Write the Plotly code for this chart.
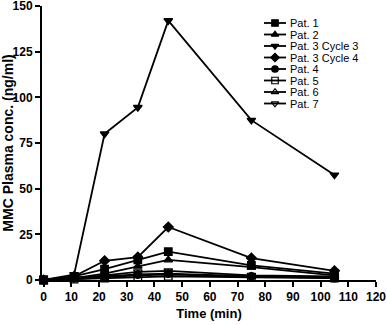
import plotly.graph_objects as go

times = [0, 11, 22, 34, 45, 75, 105]
names = ["Pat. 1", "Pat. 2", "Pat. 3 Cycle 3", "Pat. 3 Cycle 4", "Pat. 4", "Pat. 5", "Pat. 6", "Pat. 7"]
pat1 = [0, 2, 6, 11, 15.5, 8, 3.5]
pat2 = [0, 1, 3.5, 7.5, 11, 7, 2.5]
pat3c3 = [0, 3, 80, 94.5, 142, 87.5, 57.5]
pat3c4 = [0, 2, 10.5, 12.5, 29, 12, 5]
pat4 = [0, 1, 2, 3, 3.5, 2, 1]
pat5 = [0, 0.5, 1, 1.5, 2, 1.5, 1]
pat6 = [0, 0.5, 1.5, 2.5, 3, 2, 1.5]
pat7 = [0, 1, 2.5, 4.5, 5, 2.5, 2]
series = [pat1, pat2, pat3c3, pat3c4, pat4, pat5, pat6, pat7]
symbols = ["square", "triangle-up", "triangle-down", "diamond", "circle",
           "square-open", "triangle-up-open", "triangle-down-open"]
x_ticks = list(range(0, 121, 10))
y_ticks = [0, 25, 50, 75, 100, 125, 150]

W, H = 387, 325
ML, MR, MT, MB = 42, 11, 6, 45
PW, PH = W - ML - MR, H - MT - MB

fig = go.Figure()
for nm, ys, sym in zip(names, series, symbols):
    fig.add_trace(go.Scatter(
        x=times, y=ys, name=nm, mode="lines+markers",
        line=dict(color="black", width=1.8),
        marker=dict(symbol=sym, size=7.5, color="black",
                    line=dict(color="black", width=1.3)),
        cliponaxis=False, showlegend=False))

# custom compact legend in plot-pixel coordinates
lx0, lx1, ly0, ldy = 222, 244, 17, 11.5
for i, (nm, sym) in enumerate(zip(names, symbols)):
    yy = ly0 + i * ldy
    fig.add_trace(go.Scatter(
        x=[lx0, (lx0 + lx1) / 2, lx1], y=[yy, yy, yy], xaxis="x2", yaxis="y2",
        mode="lines", line=dict(color="black", width=1.8),
        showlegend=False, hoverinfo="skip"))
    fig.add_trace(go.Scatter(
        x=[(lx0 + lx1) / 2], y=[yy], xaxis="x2", yaxis="y2",
        mode="markers", marker=dict(symbol=sym, size=6.5, color="black",
                                    line=dict(color="black", width=1.2)),
        showlegend=False, hoverinfo="skip"))
    fig.add_annotation(x=lx1 + 2, y=yy, xref="x2", yref="y2", text=nm,
                       showarrow=False, xanchor="left", yanchor="middle",
                       font=dict(family="Liberation Sans, Arial", size=11, color="black"))

axis_font = dict(family="Liberation Sans, Arial", size=12, color="black", weight="bold")
fig.update_layout(
    width=W, height=H, margin=dict(l=ML, r=MR, t=MT, b=MB),
    paper_bgcolor="white", plot_bgcolor="white",
    xaxis=dict(range=[-0.6, 120], tickvals=x_ticks, ticks="outside", ticklen=5,
               tickwidth=1.5, tickcolor="black", showline=True, linecolor="black",
               linewidth=2, showgrid=False, zeroline=False, tickfont=axis_font,
               ticklabeloverflow="allow",
               title=dict(text="Time (min)", font=dict(family="Liberation Sans, Arial", size=13,
                                                      color="black", weight="bold"), standoff=5),
               automargin=False),
    yaxis=dict(range=[0, 150], tickvals=y_ticks, ticks="outside", ticklen=5,
               tickwidth=1.5, tickcolor="black", showline=True, linecolor="black",
               linewidth=2, showgrid=False, zeroline=False, tickfont=axis_font,
               ticklabeloverflow="allow",
               title=dict(text="MMC Plasma conc. (ng/ml)",
                          font=dict(family="Liberation Sans, Arial", size=14,
                                    color="black", weight="bold"), standoff=3),
               automargin=False),
    xaxis2=dict(range=[0, PW], overlaying="x", visible=False, fixedrange=True),
    yaxis2=dict(range=[PH, 0], overlaying="y", visible=False, fixedrange=True),
)
fig.write_html("out.html", config={"displayModeBar": False},
               post_script="document.body.style.margin='0';document.body.style.overflow='hidden';")
